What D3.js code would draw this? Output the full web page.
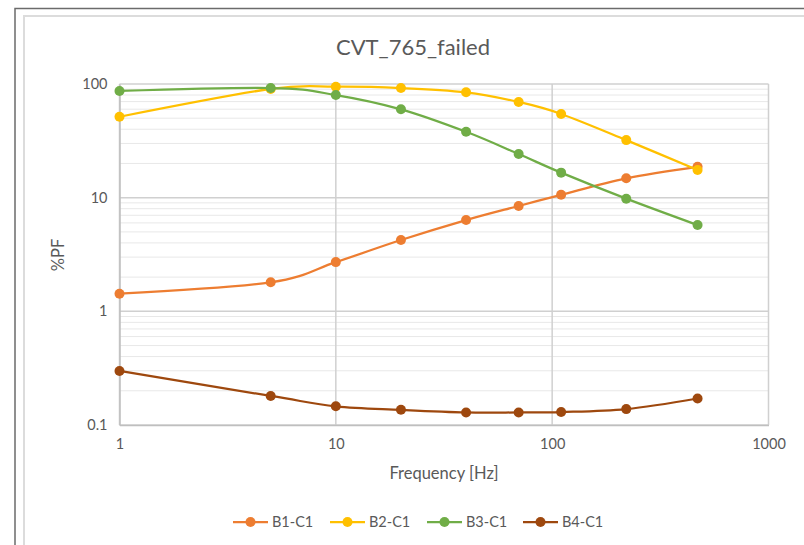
<!DOCTYPE html>
<html><head><meta charset="utf-8">
<script src="https://cdn.jsdelivr.net/npm/d3@7"></script>
<style>body{margin:0;background:#fff}svg{display:block}</style>
</head><body>
<svg id="c" width="804" height="545"></svg>
<script>
const freqs = [1, 5, 10, 20, 40, 70, 110, 220, 470];
const seriesNames = ["B1-C1", "B2-C1", "B3-C1", "B4-C1"];
const b1 = [1.43, 1.80, 2.71, 4.24, 6.35, 8.45, 10.6, 14.8, 18.7];
const b2 = [51.5, 90.5, 94.7, 92.2, 84.5, 69.5, 54.5, 32.1, 17.5];
const b3 = [86.8, 92.2, 80.0, 59.9, 38.0, 24.2, 16.6, 9.8, 5.74];
const b4 = [0.299, 0.180, 0.146, 0.136, 0.129, 0.129, 0.130, 0.138, 0.171];
const colors = ["#ED7D31", "#FFC000", "#70AD47", "#9E480E"];
const xTicks = [1, 10, 100, 1000];
const yTicks = [0.1, 1, 10, 100];
const title = "CVT_765_failed";
const xTitle = "Frequency [Hz]";
const yTitle = "%PF";

const allSeries = [b1, b2, b3, b4];
const svg = d3.select("#c");
const font = "Lato, 'Open Sans', sans-serif";
const txt = "#595959";

// frames
svg.append("path").attr("d", "M15,545 V8.5 H804").attr("fill","none").attr("stroke","#6b6b6b").attr("stroke-width",1.5);
svg.append("path").attr("d", "M24,545 V16 H804").attr("fill","none").attr("stroke","#dcdcdc").attr("stroke-width",2);

const L = 119.5, R = 768.5, T = 84, B = 425;
const x = d3.scaleLog().domain([1, 1000]).range([L, R]);
const y = d3.scaleLog().domain([0.1, 100]).range([B, T]);

// minor y grid
const minor = [];
for (let d = 0.1; d < 100; d *= 10) for (let k = 2; k <= 9; k++) minor.push(d * k);
svg.append("g").selectAll("line").data(minor).join("line")
  .attr("x1", L).attr("x2", R).attr("y1", d => y(d)).attr("y2", d => y(d))
  .attr("stroke", "#e8e8e8").attr("stroke-width", 1);
// major grid
svg.append("g").selectAll("line").data(yTicks).join("line")
  .attr("x1", L).attr("x2", R).attr("y1", d => y(d)).attr("y2", d => y(d))
  .attr("stroke", "#d0d0d0").attr("stroke-width", 1.5);
svg.append("g").selectAll("line").data(xTicks).join("line")
  .attr("x1", d => x(d)).attr("x2", d => x(d)).attr("y1", T).attr("y2", B)
  .attr("stroke", "#d0d0d0").attr("stroke-width", 1.5);

// axes
const xa = svg.append("g").attr("transform", `translate(0,${B})`)
  .call(d3.axisBottom(x).tickValues(xTicks).tickFormat(d3.format("d")).tickSize(0).tickPadding(14));
xa.select(".domain").attr("stroke", "#bfbfbf").attr("stroke-width", 1.5);
xa.selectAll("text").attr("fill", txt).attr("font-family", font).attr("font-size", 14.5);
const ya = svg.append("g").attr("transform", `translate(${L},0)`)
  .call(d3.axisLeft(y).tickValues(yTicks).tickFormat(d => d < 1 ? "0.1" : d3.format("d")(d)).tickSize(0).tickPadding(12));
ya.select(".domain").attr("stroke", "#bfbfbf").attr("stroke-width", 1.5);
ya.selectAll("text").attr("fill", txt).attr("font-family", font).attr("font-size", 14.5);

// series
const line = d3.line().x((d, i) => x(freqs[i])).y(d => y(d)).curve(d3.curveCatmullRom.alpha(0));
allSeries.forEach((s, k) => {
  svg.append("path").datum(s).attr("d", line).attr("fill", "none")
    .attr("stroke", colors[k]).attr("stroke-width", 2.25);
  svg.append("g").selectAll("circle").data(s).join("circle")
    .attr("cx", (d, i) => x(freqs[i])).attr("cy", d => y(d)).attr("r", 5)
    .attr("fill", colors[k]);
});

// titles
svg.append("text").attr("x", 413).attr("y", 55).attr("text-anchor", "middle")
  .attr("font-family", font).attr("font-size", 22).attr("fill", txt).text(title);
svg.append("text").attr("x", 444).attr("y", 479).attr("text-anchor", "middle")
  .attr("font-family", font).attr("font-size", 16.5).attr("fill", txt).text(xTitle);
svg.append("text").attr("transform", "translate(64,255) rotate(-90)").attr("text-anchor", "middle")
  .attr("font-family", font).attr("font-size", 16.5).attr("fill", txt).text(yTitle);

// legend
const legX = [233, 330, 427, 523];
seriesNames.forEach((n, k) => {
  const g = svg.append("g").attr("transform", `translate(${legX[k]},522)`);
  g.append("line").attr("x1", 0).attr("x2", 35).attr("stroke", colors[k]).attr("stroke-width", 2.25);
  g.append("circle").attr("cx", 17.5).attr("r", 5).attr("fill", colors[k]);
  g.append("text").attr("x", 39).attr("y", 5).attr("font-family", font).attr("font-size", 14.5)
    .attr("fill", txt).text(n);
});
</script>
</body></html>
